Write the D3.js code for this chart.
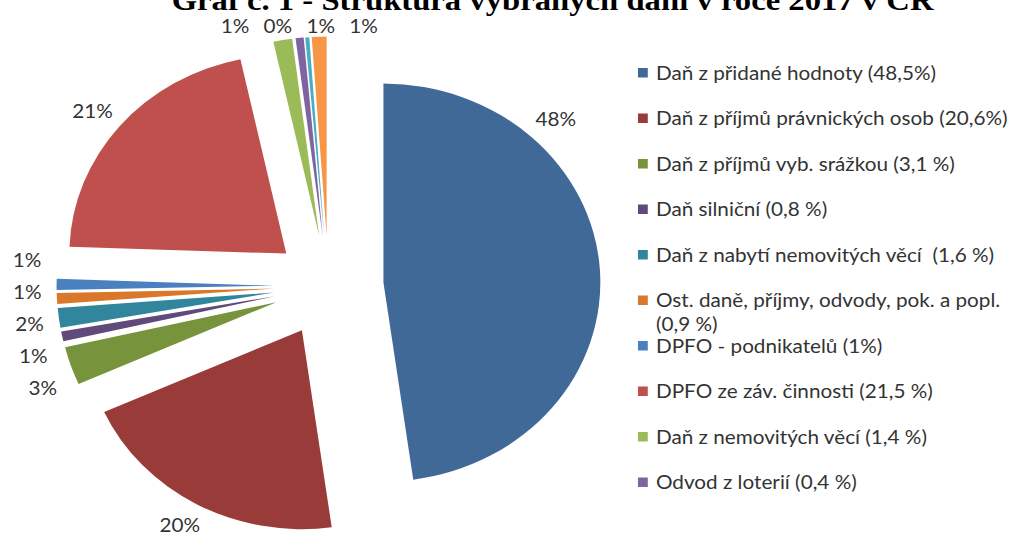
<!DOCTYPE html>
<html>
<head>
<meta charset="utf-8">
<script src="https://cdn.jsdelivr.net/npm/d3@7"></script>
<style>
  html, body { margin: 0; padding: 0; background: #fff; overflow: hidden; }
  svg { display: block; }
</style>
</head>
<body>
<svg id="chart" width="1016" height="536"></svg>
<script>
// Struktura vybraných daní – podíly jednotlivých položek (v %)
const categories = [
  "Daň z přidané hodnoty (48,5%)",
  "Daň z příjmů právnických osob (20,6%)",
  "Daň z příjmů vyb. srážkou (3,1\u00A0%)",
  "Daň silniční (0,8\u00A0%)",
  "Daň z nabytí nemovitých věcí \u00A0(1,6\u00A0%)",
  "Ost. daně, příjmy, odvody, pok. a popl. (0,9\u00A0%)",
  "DPFO - podnikatelů (1%)",
  "DPFO ze záv. činnosti (21,5\u00A0%)",
  "Daň z nemovitých věcí (1,4\u00A0%)",
  "Odvod z loterií (0,4\u00A0%)",
  "Ostatní odvody",
  "Ostatní příjmy"
];
const values = [47.9, 20.5, 3.1, 0.8, 1.6, 0.9, 0.9, 21.1, 1.4, 0.6, 0.3, 1.1];
const colors = [
  "#416998", "#983B39", "#77933C", "#5F4A7B", "#31859C", "#D9772B",
  "#4A7FC0", "#C0504D", "#9BBB59", "#8064A2", "#4BACC6", "#F79646"
];
const titleText = "Graf č. 1 - Struktura vybraných daní v roce 2017 v ČR";
const legendRows = 10; // the legend box has room for ten rows

const W = 1016, H = 536;
const sx = 1.09;                 // horizontal stretch of the whole chart
const cx = 301.4, cy = 286;      // pie centre
const R = 199;                   // pie radius
const explode = 50.5;            // slice explosion distance
const labelGap = 14;
const plotTop = 16;              // labels stay below the title
const legendX = 585.3;
const legendTextX = 601.8;
const legendY0 = 73, legendStep = 45.5;
const fontSans = "Lato, 'Open Sans', sans-serif";
const fontSize = 19;

const data = categories.map((c, i) => ({ name: c, value: values[i], color: colors[i] }));
const total = d3.sum(values);

const svg = d3.select("#chart");
const root = svg.append("g").attr("transform", `scale(${sx},1)`);

// Title (sits partly above the top edge)
root.append("text")
  .attr("x", 507)
  .attr("y", 10)
  .attr("text-anchor", "middle")
  .attr("font-family", "'Liberation Serif', 'Times New Roman', serif")
  .attr("font-weight", "bold")
  .attr("font-size", 30)
  .attr("fill", "#000")
  .text(titleText);

const pie = d3.pie().sort(null).value(d => d.value);
const arc = d3.arc().innerRadius(0).outerRadius(R);
const arcs = pie(data);
const mid = d => (d.startAngle + d.endAngle) / 2;
const unit = a => [Math.sin(a), -Math.cos(a)];

const pieG = root.append("g").attr("transform", `translate(${cx},${cy})`);
pieG.selectAll("path")
  .data(arcs)
  .join("path")
  .attr("d", arc)
  .attr("fill", d => d.data.color)
  .attr("transform", d => {
    const [ux, uy] = unit(mid(d));
    return `translate(${ux * explode},${uy * explode})`;
  });

// Data labels
const labelG = root.append("g")
  .attr("font-family", fontSans)
  .attr("font-size", fontSize)
  .attr("fill", "#333");

const labels = arcs.map((d, i) => {
  const t = labelG.append("text")
    .attr("text-anchor", "middle")
    .attr("dy", "0.35em")
    .text(Math.round(d.value / total * 100) + "%");
  const w = t.node().getComputedTextLength();
  const h = fontSize;
  const place = a => {
    const [ex, ey] = unit(mid(d));
    const [ux, uy] = unit(a);
    return {
      x: cx + ex * explode + ux * (R + labelGap) + ux * w / 2,
      y: cy + ey * explode + uy * (R + labelGap) + uy * h / 2,
      ux, uy
    };
  };
  let p = place(mid(d));
  // keep the label clear of the legend
  if (p.x + w / 2 > legendX - 10) p = place((d.startAngle + mid(d)) / 2);
  return { t, w, h, i, ...p };
});

// Push overlapping labels apart
const pad = 13;
for (let iter = 0; iter < 300; iter++) {
  let moved = false;
  for (let i = 0; i < labels.length; i++) {
    for (let j = i + 1; j < labels.length; j++) {
      const a = labels[i], b = labels[j];
      const ox = (a.w + b.w) / 2 + pad - Math.abs(a.x - b.x);
      const oy = (a.h + b.h) / 2 + pad - Math.abs(a.y - b.y);
      if (ox > 0 && oy > 0) {
        moved = true;
        if (Math.abs(a.uy) > Math.abs(a.ux)) {
          const s = a.x === b.x ? (a.ux < 0 ? 1 : -1) : (a.x < b.x ? -1 : 1);
          a.x += s * ox / 2; b.x -= s * ox / 2;
        } else {
          const s = a.y === b.y ? (a.ux < 0 ? 1 : -1) : (a.y < b.y ? -1 : 1);
          a.y += s * oy / 2; b.y -= s * oy / 2;
        }
      }
    }
  }
  if (!moved) break;
}
labels.forEach(l => {
  l.y = Math.max(l.y, plotTop + l.h / 2 + 1);
  l.t.attr("x", l.x).attr("y", l.y);
});

// Legend
const legendG = root.append("g")
  .attr("font-family", fontSans)
  .attr("font-size", fontSize)
  .attr("fill", "#333");
const maxTextW = W / sx - legendTextX;

data.slice(0, legendRows).forEach((d, i) => {
  const y = legendY0 + i * legendStep;
  legendG.append("rect")
    .attr("x", legendX).attr("y", y - 5)
    .attr("width", 9).attr("height", 9.5)
    .attr("fill", d.color);
  const text = legendG.append("text").attr("x", legendTextX).attr("y", y);
  const words = d.name.split(" ");
  let line = [];
  let tspan = text.append("tspan").attr("x", legendTextX).attr("dy", "0.35em");
  words.forEach(word => {
    line.push(word);
    tspan.text(line.join(" "));
    if (tspan.node().getComputedTextLength() > maxTextW && line.length > 1) {
      line.pop();
      tspan.text(line.join(" "));
      line = [word];
      tspan = text.append("tspan").attr("x", legendTextX).attr("dy", "24px").text(word);
    }
  });
});
</script>
</body>
</html>
